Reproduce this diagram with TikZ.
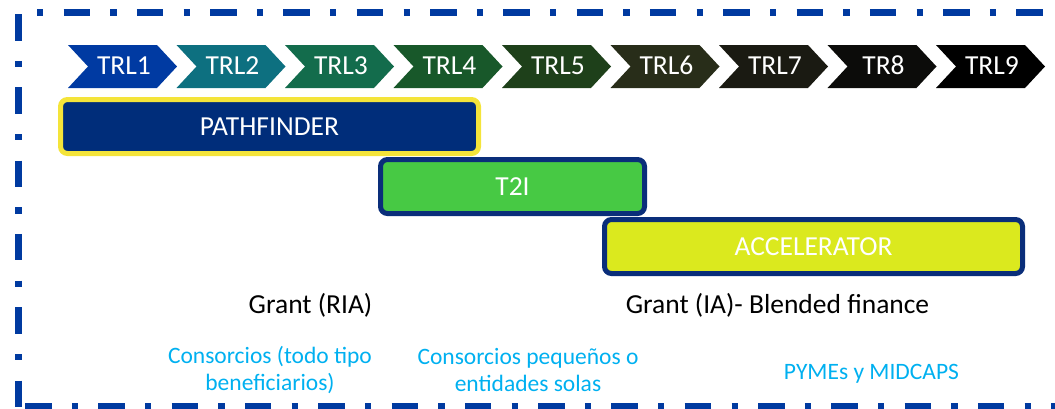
\documentclass[tikz,border=0pt]{standalone}
\usepackage{fontspec}
\setmainfont{Carlito}
\definecolor{frameblue}{RGB}{0,58,160}
\definecolor{navy}{RGB}{0,45,122}
\definecolor{navyedge}{RGB}{10,46,122}
\definecolor{pathyellow}{RGB}{244,228,58}
\definecolor{tgreen}{RGB}{71,201,68}
\definecolor{accyellow}{RGB}{219,233,30}
\definecolor{lblue}{RGB}{0,176,240}
\definecolor{c1}{RGB}{0,58,162}
\definecolor{c2}{RGB}{13,112,128}
\definecolor{c3}{RGB}{19,108,76}
\definecolor{c4}{RGB}{24,88,42}
\definecolor{c5}{RGB}{30,64,26}
\definecolor{c6}{RGB}{40,45,25}
\definecolor{c7}{RGB}{26,26,18}
\definecolor{c8}{RGB}{12,12,10}
\definecolor{c9}{RGB}{0,0,0}
\begin{document}
\begin{tikzpicture}[x=1pt,y=-1pt,
  frameline/.style={draw=frameblue, line width=6.5pt,
    dash pattern=on 26.5pt off 20.3pt on 6.2pt off 20.3pt},
  chevtext/.style={text=white, font=\fontsize{27.5}{33}\selectfont, inner sep=0pt},
  bar/.style={rounded corners=7pt, line width=5pt, inner sep=0pt,
    minimum height=54pt, text=white, font=\fontsize{27.5}{33}\selectfont},
  grantlabel/.style={text=black, font=\fontsize{27.5}{33}\selectfont, inner sep=0pt, anchor=base},
  benlabel/.style={text=lblue, font=\fontsize{23.5}{27}\selectfont, inner sep=0pt, align=center}
]
\useasboundingbox (0,0) rectangle (1055,408);
\clip (0,0) rectangle (1055,408);

% frame
\draw[frameline, dash phase=0pt] (18.5,14) -- (18.5,410);
\draw[frameline, dash phase=31.8pt] (22,12.7) -- (1070,12.7);
\draw[frameline, dash phase=70.3pt] (22,406.5) -- (1070,406.5);

% chevrons
\foreach \i/\lab/\col in {0/TRL1/c1,1/TRL2/c2,2/TRL3/c3,3/TRL4/c4,4/TRL5/c5,5/TRL6/c6,6/TRL7/c7,7/TR8/c8,8/TRL9/c9}{
  \pgfmathsetmacro{\xo}{68+\i*108.5}
  \fill[\col] (\xo,45) -- (\xo+89,45) -- (\xo+109,66.5) -- (\xo+89,88) -- (\xo,88) -- (\xo+20,66.5) -- cycle;
  \node[chevtext] (trl\i) at (\xo+56,65.5) {\lab};
}

% bars
\node[bar, draw=pathyellow, fill=navy, minimum width=418pt] (pathfinder) at (269.5,126.5) {PATHFINDER};
\node[bar, draw=navyedge, fill=tgreen, minimum width=264pt] (t2i) at (512.5,186.5) {T2I};
\node[bar, draw=navyedge, fill=accyellow, minimum width=418pt] (accel) at (813.5,246.5) {ACCELERATOR};

% labels
\node[grantlabel] (ria) at (310.5,313) {Grant (RIA)};
\node[grantlabel] (ia) at (777.5,313) {Grant (IA)- Blended finance};

\node[benlabel, anchor=base] (ben1) at (270,390) {Consorcios (todo tipo\\beneficiarios)};
\node[benlabel, anchor=base] (ben2) at (528,391) {Consorcios pequeños o\\entidades solas};
\node[benlabel, anchor=base] (ben3) at (871.5,379) {PYMEs y MIDCAPS};
\end{tikzpicture}
\end{document}
